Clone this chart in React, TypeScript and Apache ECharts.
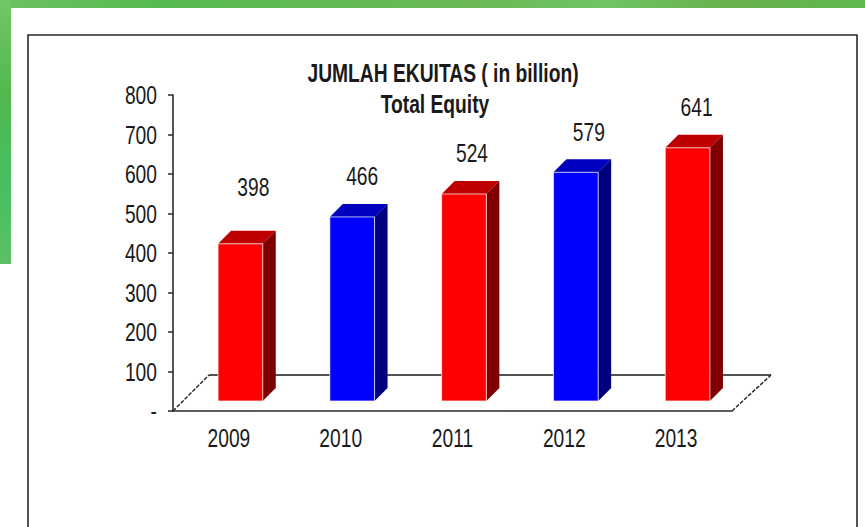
import React, { useEffect, useRef } from "react";
import * as echarts from "echarts";

const categories = ["2009", "2010", "2011", "2012", "2013"];
const equity = [398, 466, 524, 579, 641];
const yTicks = [0, 100, 200, 300, 400, 500, 600, 700, 800];
const yTickLabels = ["-", "100", "200", "300", "400", "500", "600", "700", "800"];
const titleMain = "JUMLAH EKUITAS ( in billion)";
const titleSub = "Total Equity";

const FONT = "'Liberation Sans', Arial, sans-serif";
const TEXT = "#1a1a1a";
const LABEL_FONT = `26px ${FONT}`;
const NARROW = 0.74;
const RED = { front: "#ff0000", top: "#bf0000", side: "#7f0000" };
const BLUE = { front: "#0000ff", top: "#0000bf", side: "#00007f" };
const palette = [RED, BLUE, RED, BLUE, RED];
// hand-placed labels in the source: nudges relative to the bar's top
const labelNudge = [
  [13, -57],
  [10, -41],
  [8, -41],
  [13, -40],
  [9, -41],
];

function squeezed(text: string, x: number, y: number, align: string, font = LABEL_FONT, scaleX = NARROW) {
  return {
    type: "text",
    x,
    y,
    scaleX,
    style: { text, x: 0, y: 0, align, verticalAlign: "middle", font, fill: TEXT },
  };
}

function renderBar(params: any, api: any) {
  const i = params.dataIndex;
  const c = api.coord([api.value(0), api.value(1)]);
  const base = api.coord([api.value(0), 0]);
  const w = api.size([1, 0])[0] * 0.4;
  const x0 = c[0] + 11.5 - w / 2;
  const x1 = x0 + w;
  const yTop = c[1] - 10;
  const yBot = base[1] - 10;
  const d = 13;
  const col = palette[i];
  return {
    type: "group",
    children: [
      {
        type: "polygon",
        shape: { points: [[x1, yTop], [x1 + d, yTop - d], [x1 + d, yBot - d], [x1, yBot]] },
        style: { fill: col.side },
      },
      {
        type: "polygon",
        shape: { points: [[x0, yTop], [x0 + d, yTop - d], [x1 + d, yTop - d], [x1, yTop]] },
        style: { fill: col.top },
      },
      {
        type: "rect",
        shape: { x: x0, y: yTop, width: w, height: yBot - yTop },
        style: { fill: col.front, stroke: "rgba(255,255,255,0.7)", lineWidth: 1 },
      },
      squeezed(String(api.value(1)), (x0 + x1) / 2 + labelNudge[i][0], yTop + labelNudge[i][1], "center"),
    ],
  };
}

function renderXLabel(params: any, api: any) {
  const p = api.coord([api.value(0), 0]);
  return squeezed(categories[params.dataIndex], p[0], p[1] + 27, "center");
}

function renderYLabel(params: any, api: any) {
  const p = api.coord([0, api.value(0)]);
  const axisX = p[0] - api.size([1, 0])[0] / 2;
  return squeezed(yTickLabels[params.dataIndex], axisX - 16, p[1], "right");
}

export default function App() {
  const ref = useRef<HTMLDivElement>(null);
  useEffect(() => {
    const chart = echarts.init(ref.current!, undefined, { renderer: "svg" });
    chart.setOption({
      animation: false,
      backgroundColor: "#ffffff",
      graphic: [
        {
          type: "rect",
          z: -10,
          shape: { x: 0, y: 0, width: 865, height: 8 },
          style: {
            fill: {
              type: "linear", x: 0, y: 0, x2: 1, y2: 0,
              colorStops: [
                { offset: 0, color: "#6cc262" },
                { offset: 0.18, color: "#55bb50" },
                { offset: 0.55, color: "#6cb956" },
                { offset: 0.7, color: "#6fc465" },
                { offset: 0.85, color: "#68b04a" },
                { offset: 1, color: "#5fba4e" },
              ],
            },
          },
        },
        {
          type: "rect",
          z: -10,
          shape: { x: 0, y: 0, width: 11, height: 264 },
          style: {
            fill: {
              type: "linear", x: 0, y: 0, x2: 0, y2: 1,
              colorStops: [
                { offset: 0, color: "#72c768" },
                { offset: 0.35, color: "#52b84e" },
                { offset: 0.7, color: "#46bf62" },
                { offset: 1, color: "#5cc065" },
              ],
            },
          },
        },
        {
          type: "rect",
          z: -9,
          shape: { x: 28, y: 35, width: 829, height: 520 },
          style: { fill: "#ffffff", stroke: "#2a2a2a", lineWidth: 1.6 },
        },
        {
          type: "line",
          z: -5,
          shape: { x1: 209, y1: 375, x2: 771, y2: 375 },
          style: { stroke: "#1a1a1a", lineWidth: 1.5 },
        },
        {
          type: "line",
          z: -5,
          shape: { x1: 173, y1: 411, x2: 209, y2: 375 },
          style: { stroke: "#222222", lineWidth: 1.4, lineDash: [4, 1.5] },
        },
        {
          type: "line",
          z: -5,
          shape: { x1: 732, y1: 411, x2: 771, y2: 375 },
          style: { stroke: "#222222", lineWidth: 1.4, lineDash: [4, 1.5] },
        },
        {
          type: "text",
          z: 5,
          x: 443,
          y: 74,
          scaleX: 0.77,
          style: { text: titleMain, x: 0, y: 0, align: "center", verticalAlign: "middle", font: `bold 25px ${FONT}`, fill: TEXT },
        },
        {
          type: "text",
          z: 5,
          x: 435,
          y: 105,
          scaleX: 0.77,
          style: { text: titleSub, x: 0, y: 0, align: "center", verticalAlign: "middle", font: `bold 25px ${FONT}`, fill: TEXT },
        },
      ],
      grid: { left: 173, top: 95, width: 559, height: 316, containLabel: false },
      xAxis: {
        type: "category",
        data: categories,
        boundaryGap: true,
        axisLine: { lineStyle: { color: "#2a2a2a", width: 1.6 } },
        axisTick: { alignWithLabel: false, length: 6, lineStyle: { color: "#2a2a2a", width: 1.5 } },
        axisLabel: { show: false },
      },
      yAxis: {
        type: "value",
        min: 0,
        max: 800,
        interval: 100,
        splitLine: { show: false },
        axisLine: { show: true, lineStyle: { color: "#2a2a2a", width: 1.6 } },
        axisTick: { show: true, length: 5, lineStyle: { color: "#2a2a2a", width: 1.5 } },
        axisLabel: { show: false },
      },
      series: [
        {
          type: "custom",
          clip: false,
          renderItem: renderBar,
          encode: { x: 0, y: 1 },
          data: categories.map((c, i) => [i, equity[i]]),
        },
        {
          type: "custom",
          clip: false,
          renderItem: renderXLabel,
          encode: { x: 0 },
          data: categories.map((c, i) => [i]),
        },
        {
          type: "custom",
          clip: false,
          renderItem: renderYLabel,
          encode: { y: 0 },
          data: yTicks.map((v) => [v]),
        },
      ],
    });
    return () => chart.dispose();
  }, []);
  return <div ref={ref} style={{ position: "fixed", left: 0, top: 0, width: 865, height: 527 }} />;
}
